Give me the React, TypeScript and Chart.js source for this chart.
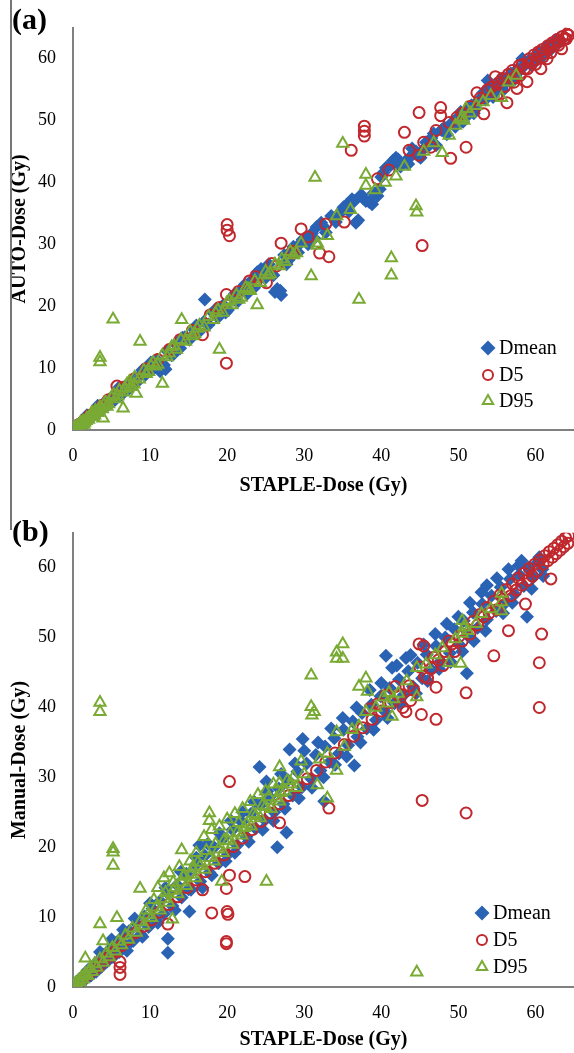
import React, { useEffect, useRef } from 'react';
import { Chart, registerables } from 'chart.js';

Chart.register(...registerables);

const FONT = '"Liberation Serif", "Times New Roman", serif';
const BLUE = '#2A62B4';
const RED = '#C0282D';
const GREEN = '#79AA34';
const AXIS = '#808080';

const SERIES_LABELS = ['Dmean', 'D5', 'D95'];
const X_TITLE = 'STAPLE-Dose (Gy)';
const Y_TITLE_A = 'AUTO-Dose (Gy)';
const Y_TITLE_B = 'Manual-Dose (Gy)';
const AXIS_MIN = 0;
const AXIS_MAX = 65;
const TICK_STEP = 10;

type Pt = [number, number];

// ---------- Panel (a): AUTO vs STAPLE ----------
const autoDmean: Pt[] = [
  [0.2, 0.3], [0.5, 0.4], [0.8, 1.0], [1.0, 0.7], [1.3, 1.5], [1.6, 1.2], [2.0, 2.3], [2.3, 1.9],
  [2.7, 2.9], [3.0, 2.6], [3.4, 3.8], [3.8, 3.3], [4.2, 4.6], [4.5, 4.0], [5.0, 5.3], [5.4, 4.8],
  [5.9, 6.2], [6.3, 5.7], [6.8, 7.1], [7.2, 6.6], [7.7, 8.1], [8.2, 7.6], [8.8, 9.0], [9.3, 8.8],
  [9.8, 10.2], [10.4, 9.8], [10.9, 11.3], [11.3, 9.5], [11.8, 10.5], [12.2, 12.8], [12.8, 12.1],
  [13.3, 13.9], [13.9, 13.2], [14.5, 15.0], [15.1, 14.6], [15.7, 16.3], [16.3, 15.8], [17.1, 21.1],
  [17.0, 17.5], [17.6, 17.0], [18.2, 18.9], [18.8, 18.2], [19.5, 20.2], [20.1, 19.4], [20.7, 21.5],
  [21.3, 20.7], [22.0, 22.8], [22.6, 22.0], [23.2, 24.2], [23.9, 25.5], [24.4, 26.0], [24.9, 24.5],
  [25.4, 26.8], [26.0, 25.0], [26.5, 22.8], [27.0, 21.8], [27.4, 28.3], [28.0, 27.5], [28.6, 29.6],
  [29.2, 28.7], [29.8, 30.8], [30.5, 30.0], [31.0, 31.8], [31.6, 32.8], [32.2, 33.5], [32.8, 31.9],
  [33.5, 34.6], [34.1, 33.6], [35.5, 36.4], [36.2, 37.3], [36.7, 33.5], [37.4, 38.0], [38.0, 37.0],
  [38.8, 36.5], [39.5, 37.8], [40.0, 40.9], [40.6, 42.4], [41.2, 42.8], [41.9, 44.0], [42.5, 42.6],
  [43.1, 43.4], [43.8, 44.2], [44.5, 45.0], [45.1, 44.0], [45.8, 46.5], [46.5, 47.2], [47.1, 46.0],
  [47.8, 48.5], [48.5, 47.8], [49.2, 49.7], [50.0, 50.6], [50.6, 49.8], [51.3, 51.8], [52.0, 51.2],
  [52.6, 53.2], [53.2, 54.5], [53.8, 56.5], [54.5, 53.8], [55.1, 55.8], [55.8, 54.9], [56.4, 57.1],
  [57.0, 56.3], [57.7, 58.4], [58.3, 60.0], [58.9, 59.3], [59.5, 58.9], [60.2, 60.8], [60.8, 60.2],
  [61.4, 61.9], [62.0, 61.5], [62.6, 63.0], [63.2, 62.8],
  [1.8, 2.4], [3.2, 3.9], [4.8, 4.3], [6.0, 6.9], [7.5, 7.0], [9.0, 9.7], [10.1, 10.9], [11.0, 10.0],
  [12.0, 9.8], [13.0, 12.2], [14.2, 14.9], [15.4, 15.1], [16.0, 16.9], [18.5, 19.5], [19.8, 19.0],
  [21.0, 22.0], [22.3, 23.5], [23.5, 23.0], [24.0, 25.0], [25.7, 25.4], [26.2, 22.3], [26.9, 22.5],
  [27.7, 26.8], [28.3, 28.9], [29.5, 30.2], [30.2, 31.1], [31.3, 31.0], [32.5, 32.9], [33.8, 34.2],
  [34.5, 34.9], [35.1, 36.0], [35.8, 35.3], [36.5, 37.0], [37.0, 33.9], [37.7, 37.4], [38.4, 36.9],
  [39.0, 38.3], [39.8, 38.9], [40.3, 41.6], [41.5, 43.5], [42.2, 43.7], [43.5, 43.0], [44.0, 45.5],
  [44.8, 44.3], [45.5, 45.4], [46.2, 46.0], [46.8, 47.9], [48.2, 48.9], [49.6, 49.0], [50.3, 51.4],
  [51.0, 50.6], [51.7, 52.5], [52.3, 52.0], [53.5, 53.4], [54.0, 55.4], [54.8, 54.6], [55.5, 56.7],
  [56.1, 56.0], [56.8, 57.6], [57.4, 57.2], [58.0, 58.2], [58.6, 59.0], [59.2, 59.8], [59.8, 59.6],
  [60.5, 61.1], [61.1, 60.8], [61.7, 62.1], [62.3, 62.0], [62.9, 63.2],
];

const autoD5: Pt[] = [
  [0.3, 0.3], [0.8, 0.9], [1.5, 1.6], [2.2, 2.4], [3.0, 3.1], [3.8, 4.0], [4.6, 4.9], [5.7, 7.1],
  [6.5, 6.9], [8.0, 8.3], [9.5, 9.9], [11.0, 11.4], [12.5, 13.0], [13.9, 14.6], [15.5, 16.1],
  [16.8, 15.4], [17.8, 18.6], [19.0, 19.8], [19.9, 21.9], [20.3, 31.4], [20.0, 32.3], [20.0, 33.2],
  [19.9, 10.8], [21.5, 22.4], [22.9, 24.1], [23.7, 24.8], [25.1, 23.8], [25.8, 26.9], [26.4, 26.5],
  [27.0, 30.2], [28.5, 28.6], [28.5, 28.9], [29.6, 32.5], [30.5, 31.2], [32.0, 28.6], [33.2, 28.0],
  [32.8, 33.3], [35.2, 33.6], [36.1, 45.2], [37.8, 47.5], [37.8, 48.3], [37.8, 49.1], [39.5, 40.6],
  [41.0, 42.0], [43.0, 48.1], [43.6, 45.2], [44.9, 44.4], [44.9, 51.3], [45.3, 29.8], [45.5, 46.5],
  [46.4, 45.7], [47.1, 48.4], [47.7, 50.8], [47.7, 52.1], [48.8, 49.7], [49.0, 43.9], [49.8, 50.5],
  [50.5, 51.2], [51.0, 45.7], [51.5, 52.3], [52.4, 54.5], [52.8, 53.6], [53.3, 51.1], [53.8, 55.0],
  [54.3, 55.4], [54.8, 57.1], [55.2, 56.1], [55.7, 56.8], [56.3, 52.9], [56.5, 57.5], [57.0, 58.1],
  [57.3, 57.0], [57.6, 55.2], [57.9, 58.9], [58.3, 59.1], [58.6, 58.4], [58.9, 56.3], [59.2, 60.0],
  [59.5, 59.4], [59.8, 60.6], [60.1, 59.9], [60.4, 61.1], [60.7, 58.4], [60.9, 61.5], [61.2, 60.9],
  [61.5, 60.0], [61.6, 62.1], [61.9, 61.8], [62.2, 62.6], [62.5, 62.2], [62.8, 63.1], [63.1, 62.8],
  [63.4, 61.6], [63.5, 63.6], [63.8, 63.3], [64.1, 64.0], [64.3, 63.8], [64.5, 64.6],
  [55.0, 54.2], [56.0, 55.5], [57.2, 56.2], [58.0, 57.3], [59.0, 58.4], [60.0, 59.1], [61.0, 60.3],
  [62.0, 61.0], [63.0, 62.2], [64.0, 63.2],
];

const autoD95: Pt[] = [
  [0.1, 0.1], [0.3, 0.2], [0.5, 0.6], [0.7, 0.5], [0.9, 1.0], [1.1, 0.8], [1.3, 1.4], [1.5, 1.2],
  [1.8, 1.9], [2.0, 1.7], [2.3, 2.5], [2.6, 2.2], [2.9, 3.1], [3.2, 2.8], [3.5, 3.7], [3.9, 1.9],
  [3.8, 3.4], [3.5, 11.0], [3.5, 11.7], [4.2, 4.5], [4.6, 4.2], [5.0, 5.3], [5.2, 17.9], [5.5, 5.0],
  [6.0, 6.4], [6.5, 3.5], [6.5, 6.1], [7.0, 7.4], [7.5, 7.0], [8.2, 5.9], [8.7, 14.3], [8.0, 8.5],
  [8.6, 8.2], [9.2, 9.6], [9.8, 9.4], [10.4, 10.9], [11.0, 10.6], [11.6, 7.5], [11.6, 12.1],
  [12.2, 11.8], [12.8, 13.4], [13.4, 13.0], [14.0, 14.6], [14.1, 17.8], [14.6, 14.3], [15.2, 15.9],
  [15.8, 15.5], [16.4, 16.9], [17.0, 16.6], [17.6, 18.3], [18.2, 17.8], [18.8, 19.4], [19.0, 13.0],
  [19.4, 19.0], [20.0, 20.6], [20.6, 20.2], [21.2, 21.8], [21.8, 21.4], [22.4, 23.0], [23.0, 22.5],
  [23.6, 24.1], [23.9, 20.2], [24.3, 23.8], [25.0, 25.6], [25.6, 25.2], [26.2, 26.8], [26.8, 26.5],
  [27.5, 27.2], [28.2, 28.8], [29.0, 28.6], [29.6, 30.2], [30.9, 24.9], [31.4, 40.8], [31.7, 30.2],
  [31.7, 29.8], [33.0, 31.4], [34.2, 34.6], [35.0, 46.3], [36.0, 35.6], [37.1, 21.1], [38.0, 41.3],
  [38.0, 39.5], [39.2, 38.8], [40.5, 40.0], [41.3, 27.8], [41.3, 25.0], [41.9, 41.0], [43.0, 42.6],
  [44.5, 36.2], [44.6, 35.2], [45.5, 45.0], [46.8, 46.4], [47.9, 44.8], [48.8, 47.6], [49.6, 49.2],
  [50.3, 50.2], [50.5, 50.5], [50.7, 50.0], [51.0, 51.9], [51.5, 51.2], [52.3, 52.4], [53.2, 53.0],
  [54.2, 54.0], [55.6, 53.7], [56.5, 56.2], [57.5, 57.3],
  [0.2, 0.4], [0.6, 0.3], [1.0, 1.2], [1.4, 0.9], [1.7, 1.5], [2.1, 2.1], [2.5, 2.8], [2.8, 2.4],
  [3.3, 3.3], [4.0, 4.1], [4.4, 3.8], [5.3, 5.7], [5.8, 5.5], [6.8, 6.7], [7.3, 7.8], [7.9, 7.4],
  [9.5, 9.1], [10.1, 10.4], [10.7, 10.3], [12.5, 12.4], [13.1, 13.6], [15.5, 15.2], [16.1, 16.4],
  [18.5, 18.9], [20.3, 20.9], [21.5, 21.1], [22.7, 22.8], [25.3, 25.0], [27.1, 27.6], [28.6, 28.3],
];

// ---------- Panel (b): Manual vs STAPLE ----------
const manualDmean: Pt[] = [
  [0.2, 0.3], [0.5, 0.2], [0.8, 1.1], [1.1, 0.6], [1.4, 1.7], [1.7, 1.2], [2.0, 2.5], [2.3, 1.6],
  [2.6, 3.0], [3.0, 2.2], [3.3, 3.8], [3.7, 2.9], [4.0, 4.6], [4.4, 3.6], [4.8, 5.4], [5.2, 4.3],
  [5.6, 6.3], [6.0, 5.0], [6.4, 7.2], [6.9, 5.8], [7.3, 8.0], [7.8, 6.6], [8.3, 9.0], [8.8, 7.5],
  [9.3, 10.1], [9.8, 8.6], [10.3, 11.2], [10.8, 9.6], [11.3, 12.3], [11.8, 10.5], [12.3, 4.9],
  [12.3, 6.9], [12.3, 13.4], [12.9, 11.6], [13.5, 14.6], [14.1, 12.8], [14.7, 16.2], [15.1, 10.8],
  [15.3, 13.9], [15.9, 17.5], [16.4, 20.3], [16.5, 15.1], [17.1, 18.8], [17.7, 16.4], [18.3, 20.0],
  [18.9, 17.7], [19.5, 21.3], [20.1, 19.0], [20.7, 22.5], [21.3, 20.3], [21.9, 23.6], [22.5, 21.5],
  [23.1, 24.8], [23.7, 22.7], [24.2, 31.5], [24.3, 26.0], [24.9, 23.9], [25.1, 29.4], [25.5, 27.2],
  [26.1, 25.0], [26.5, 20.0], [26.7, 28.4], [27.3, 26.2], [27.7, 22.1], [27.9, 29.6], [28.1, 34.0],
  [28.5, 27.4], [29.1, 30.8], [29.7, 28.6], [29.8, 35.5], [30.3, 32.0], [30.9, 29.8], [31.5, 33.2],
  [32.1, 31.0], [32.6, 26.6], [32.7, 34.4], [33.3, 32.2], [33.9, 35.6], [34.5, 33.4], [35.1, 36.8],
  [35.7, 34.6], [36.3, 38.0], [36.5, 31.7], [36.9, 35.8], [37.5, 39.2], [38.1, 37.0], [38.7, 40.4],
  [39.3, 38.2], [39.9, 41.6], [40.5, 39.4], [40.6, 47.4], [41.1, 42.8], [41.4, 45.7], [41.7, 40.6],
  [42.3, 44.0], [42.9, 41.8], [43.2, 47.1], [43.5, 45.2], [44.1, 43.0], [44.7, 46.4], [45.3, 44.2],
  [45.9, 47.6], [46.5, 45.4], [47.1, 48.8], [47.7, 46.6], [48.3, 50.0], [48.9, 47.8], [49.5, 51.2],
  [50.1, 49.0], [50.7, 52.4], [51.1, 44.9], [51.3, 50.2], [51.9, 53.6], [52.5, 51.4], [53.1, 54.8],
  [53.7, 57.5], [53.7, 52.6], [54.3, 56.0], [54.9, 53.8], [55.5, 57.2], [56.1, 55.0], [56.7, 58.4],
  [57.3, 56.2], [57.8, 60.3], [57.9, 59.0], [58.5, 57.4], [58.9, 53.0], [59.1, 60.0], [59.7, 58.6],
  [60.3, 60.8], [60.9, 59.8],
  [3.5, 5.0], [5.0, 6.8], [6.5, 8.2], [7.0, 5.2], [8.0, 9.8], [9.0, 7.2], [10.0, 12.0], [11.0, 9.2],
  [12.0, 14.2], [13.2, 11.0], [14.0, 16.5], [15.0, 14.0], [16.0, 18.5], [16.8, 14.2], [17.5, 20.5],
  [18.0, 16.0], [19.0, 22.0], [19.8, 18.0], [20.5, 23.8], [21.0, 19.2], [22.0, 25.0], [22.8, 20.8],
  [23.5, 26.5], [24.6, 22.5], [25.2, 28.0], [26.0, 23.8], [27.0, 30.5], [27.5, 25.5], [28.8, 32.0],
  [29.3, 27.0], [30.0, 33.8], [31.0, 28.5], [31.8, 35.0], [32.5, 30.0], [33.5, 37.0], [34.0, 31.8],
  [35.0, 38.5], [35.5, 33.0], [36.8, 40.0], [37.3, 35.0], [38.5, 42.5], [39.0, 36.8], [40.0, 43.5],
  [40.8, 38.5], [42.0, 46.0], [42.5, 40.5], [43.8, 47.5], [44.5, 42.0], [45.5, 49.0], [46.0, 43.8],
  [47.0, 50.5], [47.5, 45.5], [48.5, 52.0], [49.0, 46.5], [50.0, 53.0], [50.5, 48.0], [51.5, 55.0],
  [52.0, 49.5], [53.0, 56.5], [53.5, 51.0], [55.0, 58.5], [55.8, 53.5], [56.5, 59.8], [57.0, 55.0],
  [58.2, 61.0], [59.5, 57.0], [60.5, 61.5], [61.0, 58.8],
];

const manualD5: Pt[] = [
  [0.3, 0.2], [0.8, 0.7], [1.4, 1.3], [2.0, 1.8], [2.7, 2.4], [3.4, 3.0], [4.1, 3.8], [4.8, 4.5],
  [5.5, 5.1], [6.1, 2.8], [6.1, 1.8], [6.1, 3.6], [6.3, 5.9], [7.2, 6.8], [8.2, 7.8], [9.2, 8.7],
  [10.2, 9.6], [11.2, 10.7], [12.3, 9.0], [12.4, 11.8], [13.6, 12.9], [14.8, 14.2], [16.0, 15.3],
  [16.8, 13.9], [17.2, 16.5], [18.0, 10.6], [18.4, 17.7], [19.6, 18.9], [19.9, 14.1], [19.9, 6.2],
  [19.9, 6.5], [20.0, 10.8], [20.1, 10.4], [20.3, 16.0], [20.3, 29.4], [20.8, 20.1], [22.0, 21.3],
  [22.3, 15.8], [23.2, 22.5], [24.4, 23.7], [25.6, 24.9], [26.8, 23.5], [26.8, 26.2], [28.0, 27.4],
  [29.2, 28.6], [30.4, 29.8], [31.6, 31.0], [32.8, 32.2], [33.2, 25.6], [34.0, 33.5], [35.2, 34.7],
  [36.4, 35.9], [37.6, 37.1], [38.8, 38.3], [40.0, 39.5], [41.2, 40.7], [42.4, 41.9], [43.2, 39.4],
  [43.6, 43.1], [44.9, 49.1], [45.2, 39.0], [45.3, 26.7], [45.5, 48.8], [45.6, 44.4], [46.5, 45.6],
  [47.1, 42.9], [47.1, 38.3], [47.4, 46.8], [48.3, 48.0], [49.2, 49.1], [50.1, 50.2], [51.0, 42.1],
  [51.0, 24.9], [51.0, 51.3], [51.9, 52.3], [52.8, 53.3], [53.7, 54.3], [54.6, 47.4], [54.6, 55.2],
  [55.4, 56.1], [56.2, 56.9], [56.5, 51.0], [57.0, 57.7], [57.8, 58.5], [58.5, 59.2], [58.7, 54.8],
  [59.2, 59.9], [59.9, 60.5], [60.5, 46.4], [60.5, 40.0], [60.6, 61.1], [60.8, 50.5], [61.2, 61.7],
  [61.8, 62.3], [62.0, 58.4], [62.4, 62.8], [62.9, 63.3], [63.4, 63.8], [63.9, 64.3], [64.3, 64.6],
  [38.5, 39.8], [39.5, 40.5], [40.6, 41.8], [41.8, 43.0], [42.8, 40.0], [43.8, 41.0], [44.2, 42.5],
  [45.0, 45.8], [46.0, 44.2], [46.8, 47.2], [48.0, 46.0], [48.8, 49.5], [49.5, 48.0], [50.5, 49.5],
  [51.5, 50.5], [52.5, 51.8], [53.3, 53.0], [54.0, 53.5], [55.0, 54.0], [55.8, 55.5], [56.8, 56.0],
  [57.5, 56.8], [58.2, 57.5], [59.0, 58.2], [59.6, 58.8], [60.2, 59.5], [61.0, 60.5], [61.6, 61.0],
  [62.2, 61.5], [62.7, 62.0], [63.2, 62.5], [63.7, 63.0], [64.2, 63.5],
];

const manualD95: Pt[] = [
  [0.1, 0.2], [0.3, 0.5], [0.5, 0.4], [0.7, 0.9], [0.9, 0.7], [1.1, 1.4], [1.3, 1.1], [1.6, 4.1],
  [1.6, 1.9], [1.9, 1.6], [2.2, 2.6], [2.5, 2.2], [2.8, 3.3], [3.1, 2.8], [3.5, 9.0], [3.5, 39.4],
  [3.5, 40.7], [3.5, 4.0], [3.9, 6.6], [3.9, 3.5], [4.3, 4.8], [4.7, 4.3], [5.1, 5.6], [5.2, 17.4],
  [5.2, 19.3], [5.2, 19.8], [5.5, 5.1], [5.7, 9.9], [5.9, 6.5], [6.3, 6.0], [6.8, 7.4], [7.2, 6.8],
  [7.7, 8.4], [8.2, 7.8], [8.7, 14.1], [8.7, 9.3], [9.2, 8.8], [9.7, 10.3], [10.2, 9.9], [10.8, 11.4],
  [11.0, 14.2], [11.3, 11.0], [11.8, 15.6], [11.9, 12.6], [12.4, 12.1], [12.5, 16.3], [12.9, 9.7],
  [13.0, 13.8], [13.0, 15.0], [13.6, 13.3], [13.8, 17.2], [14.1, 19.6], [14.1, 15.0], [14.5, 16.0],
  [14.7, 14.5], [15.2, 18.0], [15.3, 16.1], [15.9, 15.6], [16.0, 19.2], [16.5, 17.3], [17.0, 21.5],
  [17.1, 16.8], [17.7, 24.9], [17.7, 23.8], [17.7, 18.5], [18.0, 22.5], [18.3, 18.0], [18.9, 19.7],
  [19.0, 23.0], [19.3, 15.1], [19.5, 19.2], [20.0, 24.0], [20.1, 20.9], [20.7, 20.4], [21.0, 24.8],
  [21.3, 22.1], [21.9, 21.7], [22.0, 25.5], [22.5, 23.3], [23.0, 26.5], [23.1, 23.0], [23.7, 24.5],
  [24.0, 27.5], [24.3, 24.2], [25.1, 15.1], [25.0, 25.8], [25.0, 28.0], [25.7, 25.5], [26.0, 29.0],
  [26.4, 27.0], [26.8, 26.6], [26.8, 29.2], [26.8, 31.5], [27.5, 28.0], [28.3, 29.0], [29.0, 28.5],
  [29.6, 32.3], [30.0, 30.5], [30.9, 44.6], [30.9, 40.1], [31.3, 39.4], [31.0, 38.9], [31.7, 28.9],
  [32.0, 32.6], [33.0, 33.4], [33.0, 27.0], [34.2, 31.0], [34.2, 36.5], [34.2, 47.9], [34.2, 47.0],
  [35.0, 49.1], [35.0, 47.0], [35.2, 34.4], [36.2, 36.8], [37.1, 37.3], [37.1, 43.0], [38.0, 44.2],
  [38.0, 39.4], [38.2, 42.3], [39.3, 40.0], [40.3, 41.5], [40.8, 40.6], [41.0, 42.1], [41.4, 38.7],
  [41.6, 41.2], [42.2, 42.0], [43.3, 43.8], [44.6, 45.7], [44.6, 41.5], [44.6, 2.1], [45.8, 46.2],
  [47.0, 47.5], [47.9, 48.5], [48.8, 46.4], [49.6, 49.8], [50.3, 46.3], [50.5, 52.4], [50.5, 50.6],
  [50.7, 51.5], [51.2, 51.0], [52.3, 52.0], [53.0, 53.4], [54.2, 54.1], [55.6, 56.3], [55.6, 55.1],
  [55.6, 53.8],
  [9.5, 11.0], [10.5, 12.5], [12.0, 13.5], [13.3, 14.2], [14.3, 15.8], [15.5, 17.0], [16.2, 17.8],
  [17.3, 19.5], [18.5, 20.5], [19.6, 21.0], [20.4, 22.0], [21.5, 23.5], [22.2, 22.8], [23.4, 24.8],
  [24.6, 26.0], [25.4, 27.2], [27.0, 27.8], [27.8, 29.5], [28.6, 30.0],
];

const toXY = (pts: Pt[]) => pts.map(([x, y]) => ({ x, y }));

const legendPlugin = {
  id: 'sideLegend',
  afterDatasetsDraw(chart: any, _args: any, opts: any) {
    const { ctx, chartArea } = chart;
    const cx = chartArea.left + opts.markerX;
    const tx = chartArea.left + opts.textX;
    ctx.save();
    chart.data.datasets.forEach((ds: any, i: number) => {
      const cy = chartArea.bottom + opts.rows[i];
      ctx.lineWidth = 2;
      ctx.strokeStyle = ds.borderColor;
      ctx.beginPath();
      if (ds.pointStyle === 'rectRot') {
        const r = 7.5;
        ctx.moveTo(cx, cy - r);
        ctx.lineTo(cx + r, cy);
        ctx.lineTo(cx, cy + r);
        ctx.lineTo(cx - r, cy);
        ctx.closePath();
        ctx.fillStyle = ds.borderColor;
        ctx.fill();
      } else if (ds.pointStyle === 'circle') {
        ctx.arc(cx, cy, 5, 0, Math.PI * 2);
        ctx.stroke();
      } else {
        const r = 6;
        ctx.moveTo(cx, cy - r);
        ctx.lineTo(cx + r * 0.866, cy + r / 2);
        ctx.lineTo(cx - r * 0.866, cy + r / 2);
        ctx.closePath();
        ctx.stroke();
      }
      ctx.fillStyle = '#000';
      ctx.font = `20px ${FONT}`;
      ctx.textAlign = 'left';
      ctx.textBaseline = 'middle';
      ctx.fillText(ds.label, tx, cy + 1);
    });
    ctx.restore();
  },
};

const keepDecades = (scale: any) => {
  scale.ticks = scale.ticks.filter((t: any) => t.value % TICK_STEP === 0);
};

type PanelProps = {
  top: number;
  height: number;
  yTitle: string;
  dmean: Pt[];
  d5: Pt[];
  d95: Pt[];
  xAxisHeight: number;
  xTitlePad: number;
  legend: { markerX: number; textX: number; rows: number[] };
};

function Panel(props: PanelProps) {
  const ref = useRef<HTMLCanvasElement | null>(null);
  useEffect(() => {
    if (!ref.current) return;
    const chart = new Chart(ref.current, {
      type: 'scatter',
      data: {
        datasets: [
          {
            label: SERIES_LABELS[0],
            data: toXY(props.dmean),
            pointStyle: 'rectRot',
            pointRadius: 7,
            backgroundColor: BLUE,
            borderColor: BLUE,
            borderWidth: 0,
            order: 3,
          },
          {
            label: SERIES_LABELS[1],
            data: toXY(props.d5),
            pointStyle: 'circle',
            pointRadius: 5.5,
            backgroundColor: 'rgba(0,0,0,0)',
            borderColor: RED,
            borderWidth: 2,
            order: 2,
          },
          {
            label: SERIES_LABELS[2],
            data: toXY(props.d95),
            pointStyle: 'triangle',
            pointRadius: 6.5,
            backgroundColor: 'rgba(0,0,0,0)',
            borderColor: GREEN,
            borderWidth: 2,
            order: 1,
          },
        ],
      } as any,
      options: {
        animation: false,
        responsive: false,
        maintainAspectRatio: false,
        events: [],
        layout: { autoPadding: false, padding: { top: 20, left: 0, right: 0, bottom: 0 } },
        plugins: {
          legend: { display: false },
          tooltip: { enabled: false },
          sideLegend: props.legend,
        } as any,
        scales: {
          x: {
            type: 'linear',
            min: AXIS_MIN,
            max: AXIS_MAX,
            grid: { display: false, drawTicks: false },
            border: { display: true, color: AXIS, width: 2 },
            ticks: {
              stepSize: TICK_STEP,
              maxRotation: 0,
              color: '#000',
              padding: 15,
              font: { family: FONT, size: 18 },
            },
            afterBuildTicks: keepDecades,
            afterFit: (s: any) => {
              s.height = props.xAxisHeight;
            },
            title: {
              display: true,
              text: X_TITLE,
              color: '#000',
              font: { family: FONT, size: 20, weight: 'bold' },
              padding: { top: 0, bottom: props.xTitlePad },
            },
          },
          y: {
            type: 'linear',
            min: AXIS_MIN,
            max: AXIS_MAX,
            grid: { display: false, drawTicks: false },
            border: { display: true, color: AXIS, width: 2 },
            ticks: {
              stepSize: TICK_STEP,
              color: '#000',
              padding: 17,
              font: { family: FONT, size: 18 },
            },
            afterBuildTicks: keepDecades,
            afterFit: (s: any) => {
              s.width = 73;
            },
            title: {
              display: true,
              text: props.yTitle,
              color: '#000',
              font: { family: FONT, size: 20, weight: 'bold' },
              padding: { top: 8, bottom: 0 },
            },
          },
        } as any,
      },
      plugins: [legendPlugin],
    });
    return () => chart.destroy();
  }, []);
  return (
    <canvas
      ref={ref}
      width={574}
      height={props.height}
      style={{ position: 'absolute', left: 0, top: props.top, width: 574, height: props.height, display: 'block' }}
    />
  );
}

export default function App() {
  const panelLabel: React.CSSProperties = {
    position: 'absolute',
    left: 12,
    fontFamily: FONT,
    fontWeight: 'bold',
    fontSize: 30,
    lineHeight: '30px',
    color: '#000',
  };
  return (
    <div style={{ position: 'absolute', left: 0, top: 0, width: 574, height: 1053, background: '#fff', overflow: 'hidden' }}>
      <Panel
        top={0}
        height={505}
        yTitle={Y_TITLE_A}
        dmean={autoDmean}
        d5={autoD5}
        d95={autoD95}
        xAxisHeight={75}
        xTitlePad={7}
        legend={{ markerX: 415, textX: 426, rows: [-82, -55, -29] }}
      />
      <Panel
        top={505}
        height={548}
        yTitle={Y_TITLE_B}
        dmean={manualDmean}
        d5={manualD5}
        d95={manualD95}
        xAxisHeight={66}
        xTitlePad={1}
        legend={{ markerX: 409, textX: 420, rows: [-74, -47, -20] }}
      />
      <div style={{ position: 'absolute', left: 10, top: 0, width: 2, height: 530, background: '#777' }} />
      <div style={{ ...panelLabel, top: 4 }}>(a)</div>
      <div style={{ ...panelLabel, top: 516 }}>(b)</div>
    </div>
  );
}
